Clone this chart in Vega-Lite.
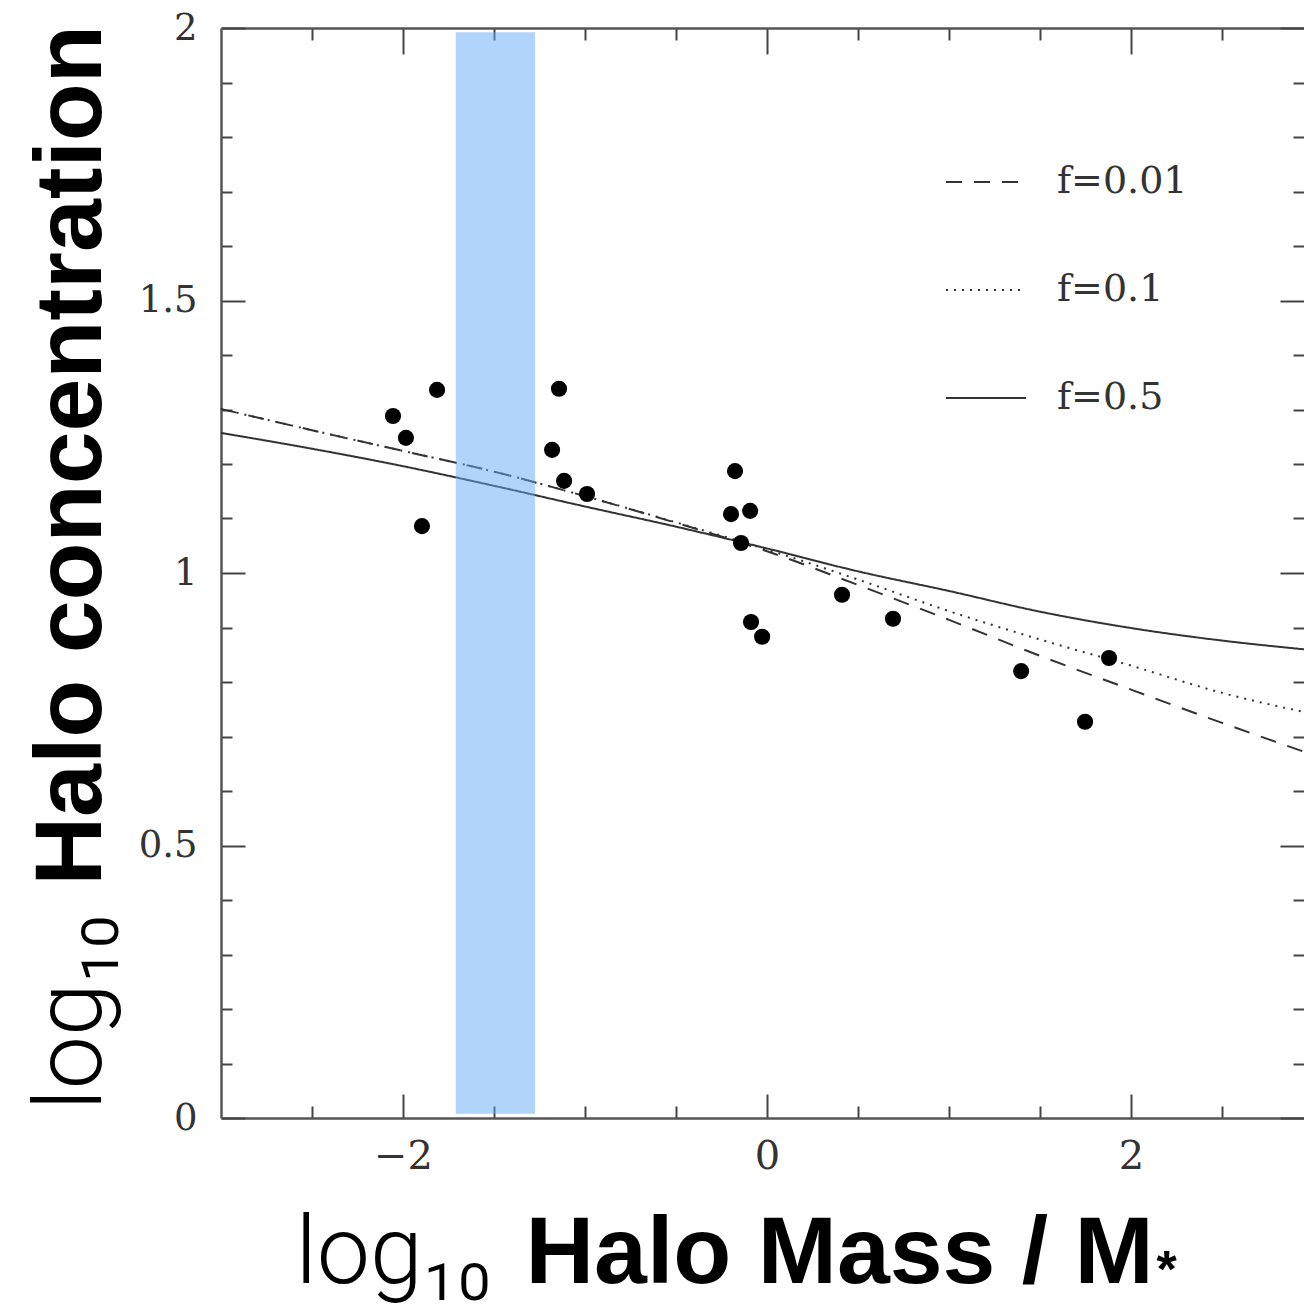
{
  "$schema": "https://vega.github.io/schema/vega-lite/v6.json",
  "width": 1083,
  "height": 1090,
  "autosize": {"type": "none"},
  "padding": {"left": 221, "top": 28, "right": 0, "bottom": 188},
  "background": "white",
  "config": {
    "view": {"stroke": null},
    "axis": {
      "grid": false,
      "tickColor": "#444",
      "tickWidth": 2,
      "domainColor": "#555",
      "domainWidth": 2.5,
      "labelFont": "DejaVu Serif",
      "labelFontSize": 37,
      "labelColor": "#333",
      "labelOverlap": false,
      "labelFlush": false,
      "labelBound": false,
      "titleFont": "Liberation Sans",
      "titleFontSize": 95,
      "titleFontWeight": "bold",
      "titleColor": "black",
      "titlePadding": 0
    }
  },
  "datasets": {
    "curves": [
      {"x": -3.0, "y": 1.301, "f": "f=0.01"},
      {"x": -2.5, "y": 1.262, "f": "f=0.01"},
      {"x": -2.0, "y": 1.224, "f": "f=0.01"},
      {"x": -1.5, "y": 1.186, "f": "f=0.01"},
      {"x": -1.0, "y": 1.141, "f": "f=0.01"},
      {"x": -0.5, "y": 1.092, "f": "f=0.01"},
      {"x": 0.0, "y": 1.040, "f": "f=0.01"},
      {"x": 0.5, "y": 0.978, "f": "f=0.01"},
      {"x": 1.0, "y": 0.914, "f": "f=0.01"},
      {"x": 1.5, "y": 0.848, "f": "f=0.01"},
      {"x": 2.0, "y": 0.786, "f": "f=0.01"},
      {"x": 2.5, "y": 0.725, "f": "f=0.01"},
      {"x": 2.95, "y": 0.672, "f": "f=0.01"},
      {"x": -3.0, "y": 1.301, "f": "f=0.1"},
      {"x": -2.5, "y": 1.262, "f": "f=0.1"},
      {"x": -2.0, "y": 1.224, "f": "f=0.1"},
      {"x": -1.5, "y": 1.186, "f": "f=0.1"},
      {"x": -1.0, "y": 1.141, "f": "f=0.1"},
      {"x": -0.5, "y": 1.093, "f": "f=0.1"},
      {"x": 0.0, "y": 1.043, "f": "f=0.1"},
      {"x": 0.5, "y": 0.988, "f": "f=0.1"},
      {"x": 1.0, "y": 0.930, "f": "f=0.1"},
      {"x": 1.5, "y": 0.878, "f": "f=0.1"},
      {"x": 2.0, "y": 0.830, "f": "f=0.1"},
      {"x": 2.5, "y": 0.780, "f": "f=0.1"},
      {"x": 2.95, "y": 0.745, "f": "f=0.1"},
      {"x": -3.0, "y": 1.257, "f": "f=0.5"},
      {"x": -2.5, "y": 1.228, "f": "f=0.5"},
      {"x": -2.0, "y": 1.196, "f": "f=0.5"},
      {"x": -1.5, "y": 1.160, "f": "f=0.5"},
      {"x": -1.0, "y": 1.122, "f": "f=0.5"},
      {"x": -0.5, "y": 1.085, "f": "f=0.5"},
      {"x": 0.0, "y": 1.045, "f": "f=0.5"},
      {"x": 0.5, "y": 1.003, "f": "f=0.5"},
      {"x": 1.0, "y": 0.967, "f": "f=0.5"},
      {"x": 1.5, "y": 0.929, "f": "f=0.5"},
      {"x": 2.0, "y": 0.899, "f": "f=0.5"},
      {"x": 2.5, "y": 0.876, "f": "f=0.5"},
      {"x": 2.95, "y": 0.860, "f": "f=0.5"}
    ],
    "points": [
      {"x": -2.055, "y": 1.288},
      {"x": -1.984, "y": 1.248},
      {"x": -1.813, "y": 1.336},
      {"x": -1.896, "y": 1.086},
      {"x": -1.143, "y": 1.338},
      {"x": -1.181, "y": 1.226},
      {"x": -1.115, "y": 1.169},
      {"x": -0.989, "y": 1.145},
      {"x": -0.176, "y": 1.187},
      {"x": -0.198, "y": 1.108},
      {"x": -0.093, "y": 1.114},
      {"x": -0.143, "y": 1.055},
      {"x": -0.088, "y": 0.910},
      {"x": -0.027, "y": 0.883},
      {"x": 0.412, "y": 0.960},
      {"x": 0.692, "y": 0.916},
      {"x": 1.396, "y": 0.820},
      {"x": 1.747, "y": 0.727},
      {"x": 1.879, "y": 0.844}
    ],
    "band": [
      {"x1": -1.71, "x2": -1.275, "y1": 0.008, "y2": 1.992}
    ]
  },
  "layer": [
    {
      "data": {"name": "curves"},
      "mark": {"type": "line", "strokeWidth": 2, "color": "#333", "interpolate": "monotone"},
      "encoding": {
        "x": {
          "field": "x", "type": "quantitative",
          "scale": {"domain": [-3, 2.95], "nice": false, "zero": false},
          "axis": {
            "orient": "bottom",
            "values": [-2.5, -2, -1.5, -1, -0.5, 0, 0.5, 1, 1.5, 2, 2.5],
            "tickSize": {"condition": {"test": "datum.value % 2 === 0", "value": -24}, "value": -12},
            "labelExpr": "datum.value % 2 === 0 ? format(datum.value, 'd') : ''",
            "labelFontSize": 40,
            "labelPadding": 42,
            "title": "Halo Mass / M",
            "titleX": 304,
            "titleY": 164,
            "titleAlign": "left",
            "titleBaseline": "alphabetic"
          }
        },
        "y": {
          "field": "y", "type": "quantitative",
          "scale": {"domain": [0, 2], "nice": false, "zero": false},
          "axis": {
            "orient": "left",
            "values": [0, 0.1, 0.2, 0.3, 0.4, 0.5, 0.6, 0.7, 0.8, 0.9, 1, 1.1, 1.2, 1.3, 1.4, 1.5, 1.6, 1.7, 1.8, 1.9, 2],
            "tickSize": {"condition": {"test": "abs(datum.value*2 - round(datum.value*2)) < 0.001", "value": -24}, "value": -11},
            "labelExpr": "abs(datum.value*2 - round(datum.value*2)) < 0.001 ? datum.value + '' : ''",
            "labelPadding": 48,
            "title": "Halo concentration",
            "titleAngle": -90,
            "titleX": -121,
            "titleY": 857,
            "titleAlign": "left",
            "titleBaseline": "alphabetic"
          }
        },
        "strokeDash": {
          "field": "f", "type": "nominal",
          "scale": {"domain": ["f=0.01", "f=0.1", "f=0.5"], "range": [[16, 12], [2, 6], [1, 0]]},
          "legend": {
            "orient": "none",
            "legendX": 724,
            "legendY": 135,
            "title": null,
            "symbolType": "stroke",
            "symbolSize": 6400,
            "symbolStrokeWidth": 2,
            "symbolStrokeColor": "#333",
            "labelFont": "DejaVu Serif",
            "labelFontSize": 38,
            "labelColor": "#333",
            "labelOffset": 30,
            "rowPadding": 70,
            "clipHeight": 38,
            "padding": 0
          }
        }
      }
    },
    {
      "data": {"name": "points"},
      "mark": {"type": "circle", "size": 260, "color": "black", "opacity": 1},
      "encoding": {
        "x": {
          "field": "x", "type": "quantitative",
          "scale": {"domain": [-3, 2.95], "nice": false, "zero": false},
          "axis": {
            "orient": "top",
            "values": [-2.5, -2, -1.5, -1, -0.5, 0, 0.5, 1, 1.5, 2, 2.5],
            "tickSize": {"condition": {"test": "datum.value % 2 === 0", "value": -26}, "value": -12},
            "labels": false,
            "title": "log₁₀",
            "titleFont": "Roboto",
            "titleFontWeight": 300,
            "titleX": 74,
            "titleY": 1254,
            "titleAlign": "left",
            "titleBaseline": "alphabetic"
          }
        },
        "y": {
          "field": "y", "type": "quantitative",
          "scale": {"domain": [0, 2], "nice": false, "zero": false},
          "axis": {
            "orient": "right",
            "domain": false,
            "values": [0, 0.1, 0.2, 0.3, 0.4, 0.5, 0.6, 0.7, 0.8, 0.9, 1, 1.1, 1.2, 1.3, 1.4, 1.5, 1.6, 1.7, 1.8, 1.9, 2],
            "tickSize": {"condition": {"test": "abs(datum.value*2 - round(datum.value*2)) < 0.001", "value": -24}, "value": -11},
            "labels": false,
            "title": "log₁₀",
            "titleFont": "Roboto",
            "titleFontWeight": 300,
            "titleAngle": -90,
            "titleX": -1204,
            "titleY": 1082,
            "titleAlign": "left",
            "titleBaseline": "alphabetic"
          }
        }
      }
    },
    {
      "data": {"name": "band"},
      "mark": {"type": "rect", "color": "#64aaf5", "opacity": 0.5},
      "encoding": {
        "x": {
          "field": "x1", "type": "quantitative",
          "scale": {"domain": [-3, 2.95], "nice": false, "zero": false},
          "axis": {
            "orient": "bottom",
            "domain": false,
            "ticks": false,
            "labels": false,
            "title": "*",
            "titleFontSize": 52,
            "titleX": 935,
            "titleY": 168,
            "titleAlign": "left",
            "titleBaseline": "alphabetic"
          }
        },
        "x2": {"field": "x2"},
        "y": {"field": "y1", "type": "quantitative", "scale": {"domain": [0, 2], "nice": false, "zero": false}, "axis": null},
        "y2": {"field": "y2"}
      }
    }
  ],
  "resolve": {"axis": {"x": "independent", "y": "independent"}}
}
